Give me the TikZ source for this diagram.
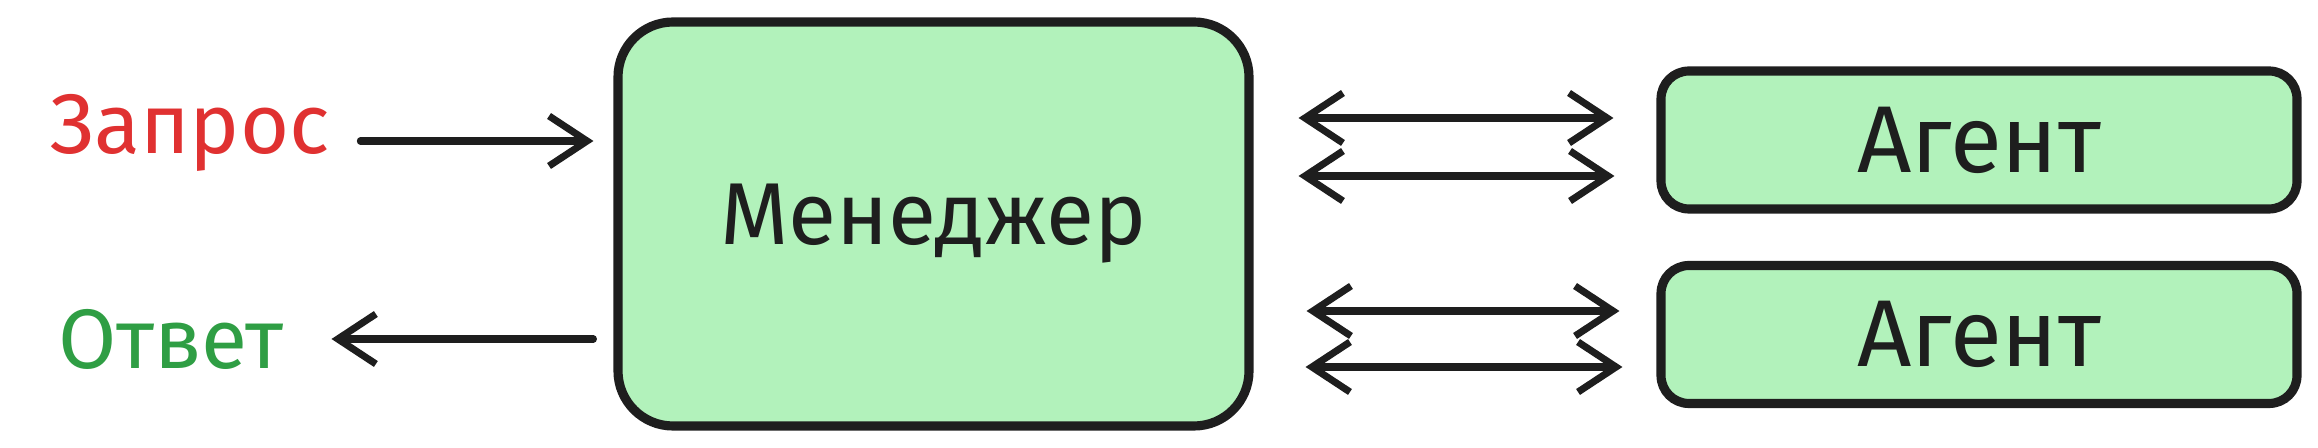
\documentclass[tikz,border=0pt]{standalone}
\usepackage{fontspec}
\setmainfont{Fira Sans}
\usepackage{xcolor}
\definecolor{boxgreen}  {HTML}{B2F2BB}
\definecolor{ink}       {HTML}{1E1E1E}
\definecolor{askred}    {HTML}{E03131}
\definecolor{replygreen}{HTML}{2F9E44}
\usetikzlibrary{arrows.meta}
\tikzset{ % Setup for the boxes and arrows
role/.style={draw=ink, fill=boxgreen, line width=2.6pt, rounded corners=0.55cm, text=ink},
agentbox/.style={role, rounded corners=0.28cm, minimum width=6.36cm, minimum height=1.38cm, font=\fontsize{27}{32}\selectfont},
link/.style={draw=ink, line width=2pt, line cap=round, -{Straight Barb[length=0.38cm, width=0.5cm]}},
both/.style={link, {Straight Barb[length=0.38cm, width=0.5cm]}-{Straight Barb[length=0.38cm, width=0.5cm]}},
}

\begin{document}
\begin{tikzpicture}
            \useasboundingbox (0,0) rectangle (23.18,4.48);
            \node [role, minimum width=6.31cm, minimum height=4.04cm, font=\fontsize{25}{30}\selectfont] (manager) at (9.335,2.24) {Менеджер};
            \node [agentbox] (agent1) at (19.79,3.08) {Агент};
            \node [agentbox] (agent2) at (19.79,1.135) {Агент};
            \node [text=askred, font=\fontsize{24}{28}\selectfont, inner sep=0pt] (ask) at (1.90,3.15) {Запрос};
            \node [text=replygreen, font=\fontsize{24}{28}\selectfont, inner sep=0pt] (reply) at (1.71,1.09) {Ответ};
            % request in, answer out
            \draw [link, shorten <=0.3cm, shorten >=0.2cm] ([yshift=-0.08cm]ask.east) -- ([yshift=-0.08cm]ask.east -| manager.west);
            \draw [link, shorten <=0.2cm, shorten >=0.47cm] (reply.east -| manager.west) -- (reply.east);
            % manager <-> agents
            \draw [both, shorten <=0.45cm, shorten >=0.43cm] ([yshift=0.22cm]agent1.west -| manager.east) -- ([yshift=0.22cm]agent1.west);
            \draw [both, shorten <=0.45cm, shorten >=0.42cm] ([yshift=-0.36cm]agent1.west -| manager.east) -- ([yshift=-0.36cm]agent1.west);
            \draw [both, shorten <=0.53cm, shorten >=0.37cm] ([yshift=0.235cm]agent2.west -| manager.east) -- ([yshift=0.235cm]agent2.west);
            \draw [both, shorten <=0.52cm, shorten >=0.34cm] ([yshift=-0.325cm]agent2.west -| manager.east) -- ([yshift=-0.325cm]agent2.west);
        \end{tikzpicture}
\end{document}
